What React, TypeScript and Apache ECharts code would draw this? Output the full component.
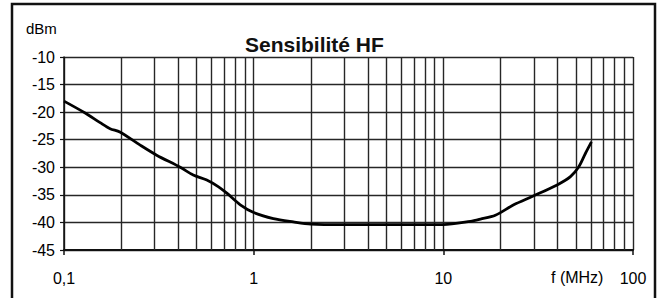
import React, { useEffect, useRef } from "react";
import * as echarts from "echarts";

const freqMHz = [0.1, 0.13, 0.155, 0.175, 0.197, 0.25, 0.308, 0.41, 0.48, 0.566, 0.65, 0.722, 0.85, 1.0, 1.27, 1.62, 2.0, 3, 5, 10, 13.9, 15.7, 18.8, 23.5, 29.4, 39.8, 46.8, 51.8, 56.1, 60.4];
const sensDbm = [-18.0, -20.2, -21.9, -23.0, -23.6, -25.9, -27.8, -30.0, -31.4, -32.3, -33.5, -34.7, -36.8, -38.2, -39.3, -39.9, -40.3, -40.4, -40.4, -40.4, -39.8, -39.4, -38.7, -36.8, -35.3, -33.2, -31.7, -29.9, -27.5, -25.4];

const xTicks = [0.1, 1, 10, 100];
const xTickLabels = ["0,1", "1", "10", "100"];
const xMinorLines = [0.2, 0.3, 0.4, 0.5, 0.6, 0.7, 0.8, 0.9, 2, 3, 4, 5, 6, 7, 8, 9, 20, 30, 40, 50, 60, 70, 80, 90];
const yMin = -45;
const yMax = -10;
const yStep = 5;

const titleText = "Sensibilité HF";
const yUnit = "dBm";
const xUnit = "f (MHz)";

const FONT = "'Liberation Sans', Arial, sans-serif";
const GRID = "#262626";

export default function App() {
  const ref = useRef<HTMLDivElement>(null);
  useEffect(() => {
    if (!ref.current) return;
    const chart = echarts.init(ref.current, null, { renderer: "svg" });
    const data = freqMHz.map((f, i) => [f, sensDbm[i]]);
    chart.setOption({
      animation: false,
      backgroundColor: "#ffffff",
      textStyle: { fontFamily: FONT },
      title: {
        text: titleText,
        left: 245,
        top: 34,
        padding: 0,
        textStyle: { fontFamily: FONT, fontSize: 21, fontWeight: "bold", color: "#111" },
      },
      grid: { left: 64, right: 32, top: 57, bottom: 48, containLabel: false },
      xAxis: {
        type: "log",
        logBase: 10,
        min: 0.1,
        max: 100,
        axisLine: { show: true, lineStyle: { color: "#111", width: 2 } },
        axisTick: { show: true, length: 5, lineStyle: { color: "#111", width: 1.5 } },
        splitLine: { show: true, lineStyle: { color: GRID, width: 1.4 } },
        minorTick: { show: false },
        minorSplitLine: { show: false },
        axisLabel: {
          margin: 20,
          fontSize: 16,
          color: "#000",
          fontFamily: FONT,
          showMinLabel: true,
          showMaxLabel: true,
          formatter: (v: number) => {
            for (let i = 0; i < xTicks.length; i++) {
              if (Math.abs(Math.log10(v / xTicks[i])) < 0.01) return xTickLabels[i];
            }
            return "";
          },
        },
      },
      yAxis: {
        type: "value",
        min: yMin,
        max: yMax,
        interval: yStep,
        axisLine: { show: true, lineStyle: { color: "#111", width: 1.5 } },
        axisTick: { show: true, length: 4, lineStyle: { color: "#111", width: 1.2 } },
        splitLine: { show: true, lineStyle: { color: GRID, width: 1.4 } },
        axisLabel: { margin: 9, fontSize: 16, color: "#000", fontFamily: FONT },
      },
      graphic: [
        {
          type: "rect",
          shape: { x: 12, y: 4, width: 643, height: 310 },
          style: { fill: "none", stroke: "#111", lineWidth: 2.5 },
          silent: true,
        },
        {
          type: "text",
          left: 26,
          top: 21,
          style: { text: yUnit, fontSize: 15, fontFamily: FONT, fill: "#000" },
        },
        {
          type: "text",
          left: 551,
          top: 269,
          style: { text: xUnit, fontSize: 16, fontFamily: FONT, fill: "#000" },
        },
      ],
      series: [
        {
          type: "line",
          data,
          smooth: 0.3,
          showSymbol: false,
          lineStyle: { color: "#000", width: 2.8 },
          z: 5,
          markLine: {
            silent: true,
            symbol: "none",
            label: { show: false },
            lineStyle: { color: GRID, width: 1.4, type: "solid" },
            z: 1,
            data: xMinorLines.map((v) => ({ xAxis: v })),
          },
        },
      ],
    });
    return () => chart.dispose();
  }, []);
  return <div ref={ref} style={{ position: "fixed", left: 0, top: 0, width: 665, height: 298 }} />;
}
